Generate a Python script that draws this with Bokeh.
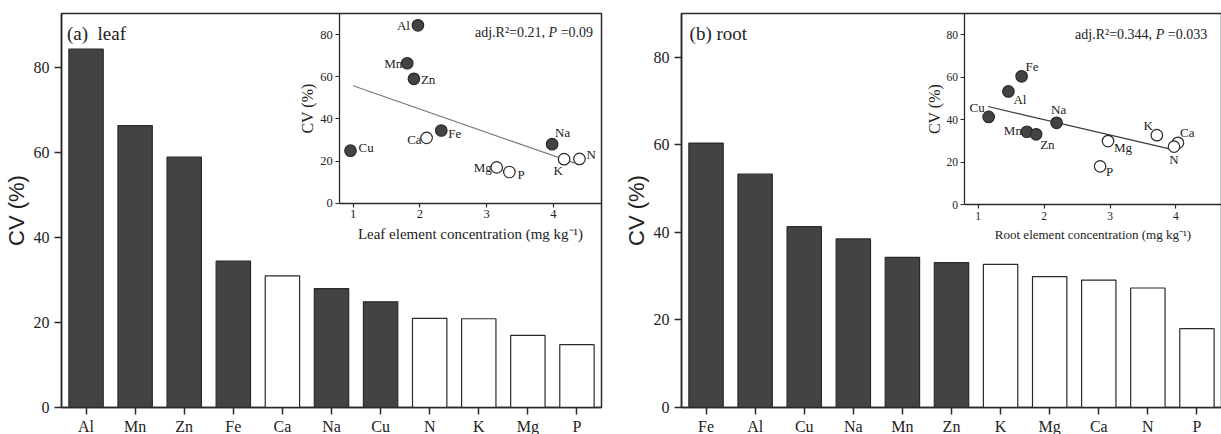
from bokeh.plotting import figure
from bokeh.models import (Range1d, LinearAxis, FixedTicker, ColumnDataSource, Label)
from bokeh.layouts import row
from bokeh.embed import file_html
from bokeh.resources import INLINE
from bokeh.core.properties import value

SERIF = "Liberation Serif"
SANS = "Liberation Sans"
NBSP = "\u00a0"

# ---------------- data ----------------
leaf_elements = ["Al", "Mn", "Zn", "Fe", "Ca", "Na", "Cu", "N", "K", "Mg", "P"]
leaf_cv = [84.4, 66.4, 59.0, 34.5, 31.0, 28.0, 24.9, 21.0, 20.9, 17.0, 14.8]
leaf_conc = [1.97, 1.81, 1.91, 2.32, 2.10, 3.98, 0.96, 4.39, 4.16, 3.15, 3.34]
leaf_fit_x = [1.0, 4.32]
leaf_fit_y = [55.7, 19.0]
leaf_stat = ("adj.R\u00b2=0.21," + NBSP, "P", NBSP + "=0.09")

root_elements = ["Fe", "Al", "Cu", "Na", "Mn", "Zn", "K", "Mg", "Ca", "N", "P"]
root_cv = [60.4, 53.3, 41.3, 38.5, 34.3, 33.1, 32.7, 29.9, 29.1, 27.3, 18.0]
root_conc = [1.66, 1.46, 1.16, 2.19, 1.74, 1.88, 3.71, 2.97, 4.03, 3.97, 2.85]
root_fit_x = [1.15, 4.0]
root_fit_y = [46.2, 25.5]
root_stat = ("adj.R\u00b2=0.344," + NBSP, "P", NBSP + "=0.033")

macro_elements = ["N", "P", "K", "Ca", "Mg"]   # drawn open
main_ticks = [0, 20, 40, 60, 80]
inset_yticks = [0, 20, 40, 60, 80]
inset_xticks = [1, 2, 3, 4]

# ---------------- label placement (style only) ----------------
leaf_label_pos = {
    "Al": (-8, 0, "right"), "Mn": (-5, 0, "right"), "Zn": (7, 1, "left"),
    "Fe": (7, 3, "left"), "Ca": (-5, 2, "right"), "Cu": (8, -3, "left"),
    "Na": (3, -12, "left"), "K": (-6, 11, "center"), "N": (7, -4, "left"),
    "Mg": (-5, 0, "right"), "P": (8, 2, "left"),
}
root_label_pos = {
    "Fe": (4, -10, "left"), "Al": (5, 8, "left"), "Cu": (-4, -9, "right"),
    "Na": (2, -13, "center"), "Mn": (-5, -1, "right"), "Zn": (4, 10, "left"),
    "Mg": (6, 6, "left"), "P": (6, 5, "left"), "K": (-4, -10, "right"),
    "Ca": (2, -10, "left"), "N": (0, 13, "center"),
}


def extra_range(lo, hi, frac_lo):
    span = (hi - lo) / (1.0 - frac_lo)
    return Range1d(hi - span, hi)


def build(cfg):
    elements, cv, conc = cfg["elements"], cfg["cv"], cfg["conc"]
    idx = list(range(len(elements)))
    colors = ["white" if e in macro_elements else "#434343" for e in elements]
    src = ColumnDataSource(dict(i=idx, el=elements, cv=cv, conc=conc, color=colors,
                                dx=[cfg["lab"][e][0] for e in elements],
                                dy=[cfg["lab"][e][1] for e in elements],
                                align=[cfg["lab"][e][2] for e in elements]))

    p = figure(x_range=Range1d(-0.5, len(elements) - 0.5),
               y_range=Range1d(0, cfg["ymax"]),
               frame_width=540, frame_height=394,
               min_border_left=cfg["ml"], min_border_right=cfg["mr"],
               min_border_top=13, min_border_bottom=0,
               output_backend="svg", toolbar_location=None)
    p.xgrid.visible = False
    p.ygrid.visible = False
    p.outline_line_color = "#2a2a2a"
    p.outline_line_width = 1.5

    xa = p.below[0]
    ya = p.left[0]
    for ax in (xa, ya):
        ax.axis_line_color = "#2a2a2a"
        ax.axis_line_width = 1.5
        ax.major_tick_line_color = "#2a2a2a"
        ax.major_tick_line_width = 1.5
        ax.major_tick_out = 7
        ax.major_tick_in = 0
        ax.minor_tick_line_color = None
        ax.major_label_text_font = SERIF
        ax.major_label_text_font_size = "16px"
        ax.major_label_text_color = "#222222"
    xa.ticker = FixedTicker(ticks=idx)
    xa.major_label_overrides = {i: e for i, e in zip(idx, elements)}
    xa.major_label_standoff = 3
    ya.major_label_standoff = 5
    ya.ticker = FixedTicker(ticks=main_ticks)
    ya.axis_label = "CV (%)"
    ya.axis_label_text_font = SANS
    ya.axis_label_text_font_style = "normal"
    ya.axis_label_text_font_size = "22px"
    ya.axis_label_text_color = "#222222"
    ya.axis_label_standoff = 2

    p.vbar(x="i", top="cv", width=0.7, fill_color="color", line_color="#2a2a2a",
           line_width=1.2, source=src)

    # ranges for the inset and for frame-relative annotations
    p.extra_x_ranges = {"ix": extra_range(0.8, cfg["ixmax"], cfg["fx_lo"]),
                        "fx": Range1d(0, 1)}
    p.extra_y_ranges = {"iy": extra_range(0, 90, cfg["fy_lo"]),
                        "fy": Range1d(0, 1)}

    p.add_layout(Label(x=cfg["title_x"], y=0.95, x_range_name="fx", y_range_name="fy",
                       text=cfg["title"], text_font=SERIF, text_font_size="19px",
                       text_color="#222222", text_baseline="alphabetic"))

    # inset axes
    iya = LinearAxis(x_range_name="ix", y_range_name="iy", fixed_location=0.8,
                     bounds=(0, 90), ticker=FixedTicker(ticks=inset_yticks),
                     axis_label="CV (%)")
    ixa = LinearAxis(x_range_name="ix", y_range_name="iy", fixed_location=0,
                     bounds=(0.8, cfg["ixmax"]), ticker=FixedTicker(ticks=inset_xticks),
                     axis_label=cfg["xlabel"])
    for ax in (iya, ixa):
        ax.axis_line_color = "#2a2a2a"
        ax.axis_line_width = 1.3
        ax.major_tick_line_color = "#2a2a2a"
        ax.major_tick_line_width = 1.2
        ax.major_tick_out = 4
        ax.major_tick_in = 0
        ax.minor_tick_line_color = None
        ax.major_label_text_font = SERIF
        ax.major_label_text_font_size = cfg["itick"]
        ax.major_label_text_color = "#222222"
        ax.major_label_standoff = 3
        ax.axis_label_text_font = SERIF
        ax.axis_label_text_font_style = "normal"
        ax.axis_label_text_color = "#222222"
    iya.axis_label_text_font_size = "16px"
    iya.axis_label_standoff = cfg["iy_std"]
    ixa.axis_label_text_font_size = cfg["ixlab"]
    ixa.axis_label_standoff = 4
    p.add_layout(iya, "left")
    p.add_layout(ixa, "below")

    p.line(cfg["fit_x"], cfg["fit_y"], x_range_name="ix", y_range_name="iy",
           line_color=cfg["fit_color"], line_width=1.2)
    p.scatter(x="conc", y="cv", size=11.5, fill_color="color", line_color="#2a2a2a",
              line_width=1.2, x_range_name="ix", y_range_name="iy", source=src)
    p.text(x="conc", y="cv", text="el", x_offset="dx", y_offset="dy",
           text_align="align", text_baseline="middle",
           text_font=value(SERIF), text_font_size="13px", text_color="#222222",
           x_range_name="ix", y_range_name="iy", source=src)

    # statistics text (right-aligned pieces, italic P)
    s1, s2, s3 = cfg["stat"]
    w3, w2 = cfg["stat_w"]
    common = dict(x=cfg["stat_x"], y=cfg["stat_y"], x_range_name="ix", y_range_name="iy",
                  text_font=SERIF, text_font_size="14px", text_color="#222222",
                  text_align="right", text_baseline="alphabetic")
    p.add_layout(Label(text=s3, **common))
    p.add_layout(Label(text=s2, x_offset=-w3, text_font_style="italic", **common))
    p.add_layout(Label(text=s1, x_offset=-(w3 + w2), **common))
    return p


left = build(dict(elements=leaf_elements, cv=leaf_cv, conc=leaf_conc,
                  fit_x=leaf_fit_x, fit_y=leaf_fit_y, stat=leaf_stat, lab=leaf_label_pos,
                  ymax=92.8, ixmax=4.72, fx_lo=0.5154, fy_lo=0.5185,
                  ml=53, mr=19, title="(a)" + NBSP + NBSP + "leaf", title_x=0.010,
                  xlabel="Leaf element concentration (mg kg\u207b\u00b9)",
                  itick="12.5px", ixlab="15px", iy_std=1, fit_color="#7a7a7a",
                  stat_x=4.594, stat_y=80.9, stat_w=(36, 8.6)))

right = build(dict(elements=root_elements, cv=root_cv, conc=root_conc,
                   fit_x=root_fit_x, fit_y=root_fit_y, stat=root_stat, lab=root_label_pos,
                   ymax=90.0, ixmax=4.69, fx_lo=0.5248, fy_lo=0.515,
                   ml=59, mr=2, title="(b) root", title_x=0.015,
                   xlabel="Root element concentration (mg kg\u207b\u00b9)",
                   itick="11.5px", ixlab="13px", iy_std=0, fit_color="#3a3a3a",
                   stat_x=4.473, stat_y=80.1, stat_w=(43, 8.6)))

layout = row(left, right)
open("out.html", "w").write(file_html(layout, INLINE))
